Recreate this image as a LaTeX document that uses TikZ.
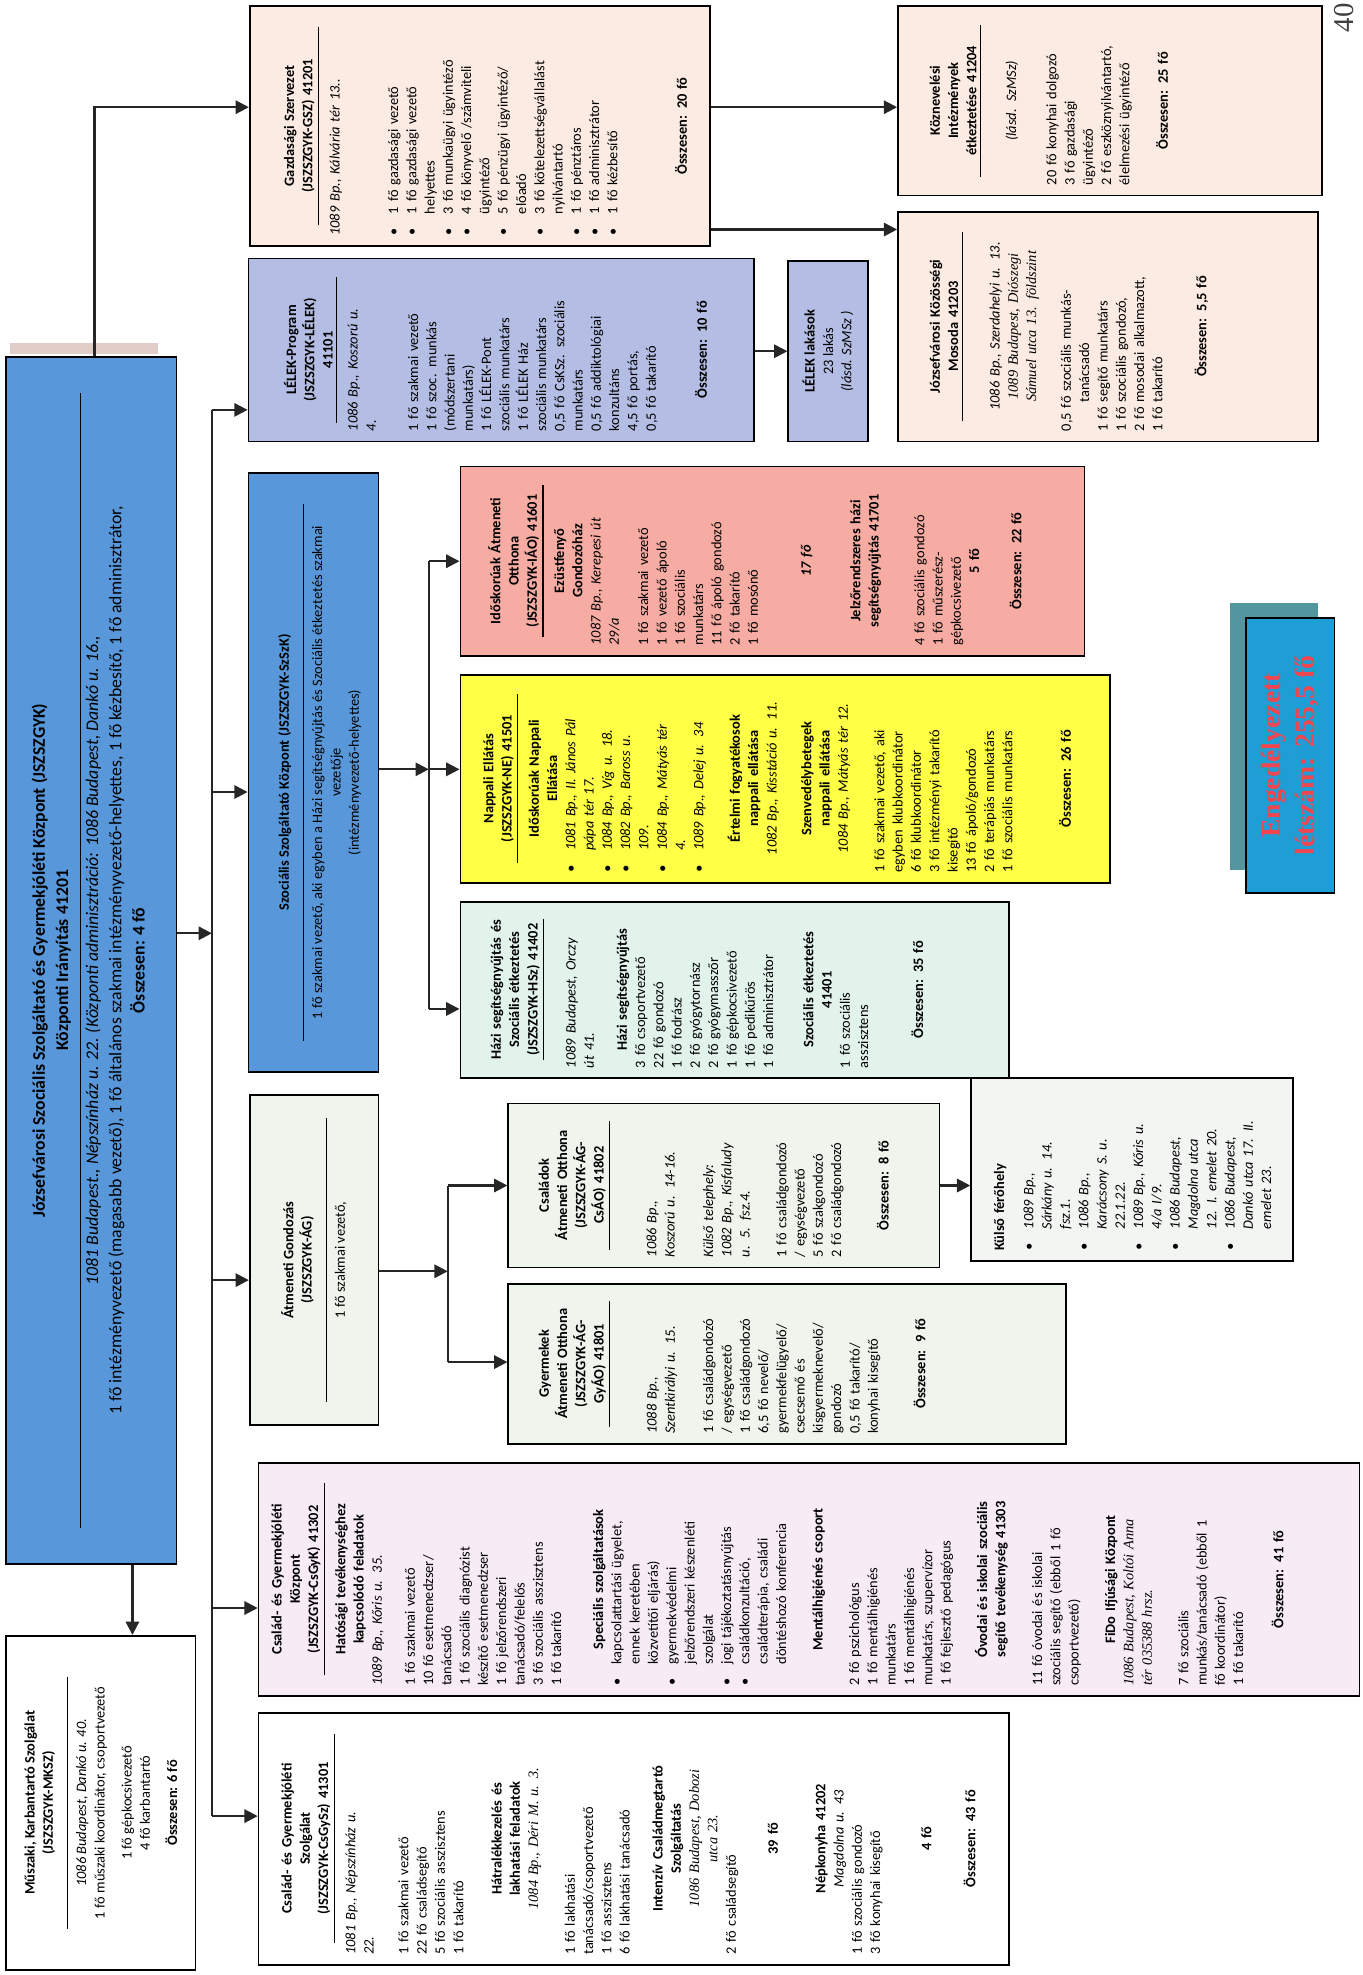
\documentclass[tikz,border=0pt]{standalone}
\usepackage{fontspec}
\setmainfont{Carlito}
\newfontfamily\tnr{Liberation Serif}
\usetikzlibrary{arrows.meta, fit, positioning}

\definecolor{mainblue}{RGB}{88,152,218}
\definecolor{peach}{RGB}{251,235,226}
\definecolor{lelekblue}{RGB}{180,190,228}
\definecolor{salmon}{RGB}{246,172,162}
\definecolor{napyellow}{RGB}{255,255,70}
\definecolor{mint}{RGB}{226,243,236}
\definecolor{palegreen}{RGB}{239,245,237}
\definecolor{palegray}{RGB}{243,245,243}
\definecolor{lilac}{RGB}{247,236,246}
\definecolor{pinkstrip}{RGB}{226,206,200}
\definecolor{engteal}{RGB}{82,150,160}
\definecolor{engblue}{RGB}{30,158,212}
\definecolor{engred}{RGB}{240,70,80}

\newcommand{\ttl}[1]{{\centering\bfseries #1\par}}
\newcommand{\ctr}[1]{{\centering #1\par}}
\newcommand{\sepl}{\par\vspace{3pt}\nointerlineskip{\centering\rule{0.9\linewidth}{1pt}\par}\vspace{2pt}}
\newcommand{\vgap}[1][1]{\par\vspace{#1\baselineskip}}
\newcommand{\itm}{\par\hangindent=1.5em\hangafter=1\noindent\makebox[1.5em][l]{\textbullet}}

\tikzset{
  box/.style={draw=black, line width=1.5pt, inner sep=0pt},
  txt/.style={rotate=90, anchor=north west, inner sep=0pt, align=left,
    font=\fontsize{13}{16.5}\selectfont, execute at begin node={\setlength{\parindent}{0pt}}},
  ctxt/.style={rotate=90, anchor=center, inner sep=0pt, align=center,
    font=\fontsize{13}{16.5}\selectfont},
  line/.style={line width=2pt, draw=black!85},
  arr/.style={line, -{Triangle[length=12pt,width=12pt]}},
}

\begin{document}
\begin{tikzpicture}[x=0.04cm, y=-0.04cm]
\useasboundingbox (0,0) rectangle (1080,1566);

\fill[pinkstrip] (8,272) rectangle (125,281);
\node[box, fill=mainblue, fit={(5,283) (140,1240)}] (main) {};
\node[ctxt, font=\fontsize{16}{21}\selectfont] (main text) at ([xshift=-0.1cm]main.center) {%
\textbf{Józsefvárosi Szociális Szolgáltató és Gyermekjóléti Központ (JSZSZGYK)}\\
\textbf{Központi Irányítás 41201}\\[-9pt]
\rule{36cm}{1pt}\\[-6pt]
\textit{1081 Budapest., Népszínház u. 22. (Központi adminisztráció: 1086 Budapest, Dankó u. 16.,}\\
1 fő intézményvezető (magasabb vezető), 1 fő általános szakmai intézményvezető-helyettes, 1 fő kézbesítő, 1 fő adminisztrátor,\\
\textbf{Összesen: 4 fő}};

\node[box, fill=white, fit={(5,1297) (155,1562)}] (mksz) {};
\node[ctxt] (mksz text) at (mksz.center) {%
\textbf{Műszaki, Karbantartó Szolgálat}\\
\textbf{(JSZSZGYK-MKSZ)}\\[-3pt]
\rule{8cm}{1pt}\\
\textit{1086 Budapest, Dankó u. 40.}\\
1 fő műszaki koordinátor, csoportvezető\\[8pt]
1 fő gépkocsivezető\\
4 fő karbantartó\\[8pt]
\textbf{Összesen: 6 fő}};

\node[box, fill=peach, fit={(198,5) (563,195)}] (gsz) {};
\node[txt, text width=6.96cm] (gsz text) at (225,187) {%
\ttl{Gazdasági Szervezet\\(JSZSZGYK-GSZ) 41201}\sepl
\textit{1089 Bp., Kálvária tér 13..}
\vgap[2.2]
\itm 1 fő gazdasági vezető
\itm 1 fő gazdasági vezető\newline helyettes
\itm 3 fő munkaügyi ügyintéző
\itm 4 fő könyvelő /számviteli\newline ügyintéző
\itm 5 fő pénzügyi ügyintéző/\newline előadó
\itm 3 fő kötelezettségvállalást\newline nyilvántartó
\itm 1 fő pénztáros
\itm 1 fő adminisztrátor
\itm 1 fő kézbesítő
\vgap[2.8]
\ttl{Összesen: 20 fő}};

\node[box, fill=peach, fit={(712,5) (1048,155)}] (kozn) {};
\node[txt, text width=5.36cm] (kozn text) at (737,147) {%
\ttl{Köznevelési\\Intézmények\\étkeztetése 41204}\sepl
\vgap[0.8]
\ctr{\textit{(lásd. SzMSz)}}
\vgap[1.2]
20 fő konyhai dolgozó\par
3 fő gazdasági\par
ügyintéző\par
2 fő eszköznyilvántartó,\par
élelmezési ügyintéző
\vgap[1.1]
\ttl{Összesen: 25 fő}};

\node[box, fill=peach, fit={(712,168) (1045,350)}] (mos) {};
\node[txt, text width=6.64cm] (mos text) at (737,342) {%
\ttl{Józsefvárosi Közösségi\\Mosoda 41203}\sepl
\vgap[0.9]
{\centering\itshape 1086 Bp., Szerdahelyi u. 13.\\ {\tnr 1089 Budapest, Diószegi\\ Sámuel utca 13. földszint}\par}
\vgap[0.9]
0,5 fő szociális munkás-\par
\hspace*{2em}tanácsadó\par
1 fő segítő munkatárs\par
1 fő szociális gondozó,\par
2 fő mosodai alkalmazott,\par
1 fő takarító
\vgap[1.4]
\ttl{Összesen: 5,5 fő}};

\node[box, fill=lelekblue, fit={(197,205) (598,350)}] (lelek) {};
\node[txt, text width=5.16cm] (lelek text) at (225,342) {%
\ttl{LÉLEK-Program\\(JSZSZGYK-LÉLEK)\\41101}\sepl
\textit{1086 Bp., Koszorú u.}\par
\textit{4.}
\vgap[1.3]
1 fő szakmai vezető\par
1 fő szoc. munkás\par
(módszertani\par
munkatárs)\par
1 fő LÉLEK-Pont\par
szociális munkatárs\par
1 fő LÉLEK Ház\par
szociális munkatárs\par
0,5 fő CsKSz. szociális\par
munkatárs\par
0,5 fő addiktológiai\par
konzultáns\par
4,5 fő portás,\par
0,5 fő takarító
\vgap[1.8]
\ttl{Összesen: 10 fő}};

\node[box, fill=lelekblue, fit={(625,207) (688,350)}] (lakas) {};
\node[ctxt] (lakas text) at (lakas.center) {%
\textbf{LÉLEK lakások}\\
23 lakás\\
\textit{(lásd. SzMSz )}};

\node[box, fill=mainblue, fit={(197,375) (300,850)}] (szszk) {};
\node[ctxt] (szszk text) at ([xshift=0.2cm]szszk.center) {%
\textbf{Szociális Szolgáltató Központ (JSZSZGYK-SzSzK)}\\[-3pt]
\rule{17cm}{1pt}\\
1 fő szakmai vezető, aki egyben a Házi segítségnyújtás és Szociális étkeztetés szakmai\\
vezetője\\
(intézményvezető-helyettes)};

\node[box, fill=salmon, fit={(365,370) (860,520)}] (idos) {};
\node[txt, text width=5.36cm] (idos text) at (387,512) {%
\ttl{Időskorúak Átmeneti\\Otthona\\(JSZSZGYK-IÁO) 41601}\sepl
\ttl{Ezüstfenyő\\Gondozóház}
\textit{1087 Bp., Kerepesi út}\par
\textit{29/a}
\vgap[0.6]
1 fő szakmai vezető\par
1 fő vezető ápoló\par
1 fő szociális\par
munkatárs\par
11 fő ápoló gondozó\par
2 fő takarító\par
1 fő mosónő
\vgap[1.9]
\ttl{\itshape 17 fő}
\vgap[1.7]
\ttl{Jelzőrendszeres házi\\segítségnyújtás 41701}
\vgap[1.5]
4 fő szociális gondozó\par
1 fő műszerész-\par
gépkocsivezető\par
\ttl{5 fő}
\vgap[1.3]
\ttl{Összesen: 22 fő}};

\node[box, fill=napyellow, fit={(365,535) (880,700)}] (napp) {};
\node[txt, text width=5.96cm] (napp text) at (383,692) {%
\ttl{Nappali Ellátás\\(JSZSZGYK-NE) 41501}\sepl
\ttl{Időskorúak Nappali\\Ellátása}
{\itshape
\itm 1081 Bp., II. János Pál\newline pápa tér 17.
\itm 1084 Bp., Víg u. 18.
\itm 1082 Bp., Baross u.\newline 109.
\itm 1084 Bp., Mátyás tér\newline 4.
\itm 1089 Bp., Delej u. 34\par}
\vgap[1]
\ttl{Értelmi fogyatékosok\\nappali ellátása}
\ctr{\itshape 1082 Bp., Kisstáció u. 11.}
\vgap[0.9]
\ttl{Szenvedélybetegek\\nappali ellátása}
\ctr{\itshape 1084 Bp., Mátyás tér 12.}
\vgap[1]
1 fő szakmai vezető, aki\par
egyben klubkoordinátor\par
6 fő klubkoordinátor\par
3 fő intézményi takarító\par
kisegítő\par
13 fő ápoló/gondozó\par
2 fő terápiás munkatárs\par
1 fő szociális munkatárs
\vgap[2.2]
\ttl{Összesen: 26 fő}};

\node[box, fill=mint, fit={(365,715) (800,855)}] (hazi) {};
\node[txt, text width=4.96cm] (hazi text) at (389,847) {%
\ttl{Házi segítségnyújtás és\\Szociális étkeztetés\\(JSZSZGYK-HSz) 41402}\sepl
\vgap[0.6]
\textit{1089 Budapest, Orczy}\par
\textit{út 41.}
\vgap[0.8]
\ttl{Házi segítségnyújtás}
3 fő csoportvezető\par
22 fő gondozó\par
1 fő fodrász\par
2 fő gyógytornász\par
2 fő gyógymasszőr\par
1 fő gépkocsivezető\par
1 fő pedikűrös\par
1 fő adminisztrátor
\vgap[1.2]
\ttl{Szociális étkeztetés\\41401}
1 fő szociális\par
asszisztens
\vgap[2]
\ttl{Összesen: 35 fő}};

\node[box, fill=palegreen, fit={(198,868) (300,1130)}] (atm) {};
\node[ctxt] (atm text) at (atm.center) {%
\textbf{Átmeneti Gondozás}\\
\textbf{(JSZSZGYK-ÁG)}\\[-3pt]
\rule{9cm}{1pt}\\
1 fő szakmai vezető,};

\node[box, fill=palegreen, fit={(403,875) (745,1005)}] (csao) {};
\node[txt, text width=4.56cm] (csao text) at (427,997) {%
\ttl{Családok\\Átmeneti Otthona\\(JSZSZGYK-ÁG-\\CsÁO) 41802}\sepl
\vgap[1.4]
\textit{1086 Bp.,}\par
\textit{Koszorú u. 14-16.}
\vgap[1.1]
\textit{Külső telephely:}\par
\textit{1082 Bp., Kisfaludy}\par
\textit{u. 5. fsz.4.}
\vgap[1]
1 fő családgondozó\par
/ egységvezető\par
5 fő szakgondozó\par
2 fő családgondozó
\vgap[1.6]
\ttl{Összesen: 8 fő}};

\node[box, fill=palegray, fit={(770,855) (1025,1000)}] (kulso) {};
\node[txt, text width=5.16cm] (kulso text) at (788,992) {%
\textbf{Külső férőhely}
\vgap[0.6]
{\itshape
\itm 1089 Bp.,\newline Sárkány u. 14.\newline fsz.1.
\itm 1086 Bp.,\newline Karácsony S. u.\newline 22.1.22.
\itm 1089 Bp., Kőris u.\newline 4/a I/9.
\itm 1086 Budapest,\newline Magdolna utca\newline 12. I. emelet 20.
\itm 1086 Budapest,\newline Dankó utca 17. II.\newline emelet 23.\par}};

\node[box, fill=palegreen, fit={(403,1018) (845,1145)}] (gyao) {};
\node[txt, text width=4.44cm] (gyao text) at (427,1137) {%
\ttl{Gyermekek\\Átmeneti Otthona\\(JSZSZGYK-ÁG-\\GyÁO) 41801}\sepl
\vgap[1.4]
\textit{1088 Bp.,}\par
\textit{Szentkirályi u. 15.}
\vgap[1.1]
1 fő családgondozó\par
/ egységvezető\par
1 fő családgondozó\par
6,5 fő nevelő/\par
gyermekfelügyelő/\par
csecsemő és\par
kisgyermeknevelő/\par
gondozó\par
0,5 fő takarító/\par
konyhai kisegítő
\vgap[1.6]
\ttl{Összesen: 9 fő}};

\node[box, fill=lilac, fit={(205,1160) (1078,1345)}] (kp) {};
\node[txt, text width=6.76cm] (kp text) at (215,1337) {%
\ttl{Család- és Gyermekjóléti\\Központ\\(JSZSZGYK-CsGyK) 41302}\sepl
\ttl{Hatósági tevékenységhez\\kapcsolódó feladatok}
\textit{1089 Bp., Kőris u. 35.}
\vgap[0.8]
1 fő szakmai vezető\par
10 fő esetmenedzser/\par
tanácsadó\par
1 fő szociális diagnózist\par
készítő esetmenedzser\par
1 fő jelzőrendszeri\par
tanácsadó/felelős\par
3 fő szociális asszisztens\par
1 fő takarító
\vgap[1.3]
\ttl{Speciális szolgáltatások}
\itm kapcsolattartási ügyelet,\newline ennek keretében\newline közvetítői eljárás)
\itm gyermekvédelmi\newline jelzőrendszeri készenléti\newline szolgálat
\itm jogi tájékoztatásnyújtás
\itm családkonzultáció,\newline családterápia, családi\newline döntéshozó konferencia
\vgap[1]
\ttl{Mentálhigiénés csoport}
\vgap[1]
2 fő pszichológus\par
1 fő mentálhigiénés\par
munkatárs\par
1 fő mentálhigiénés\par
munkatárs, szupervízor\par
1 fő fejlesztő pedagógus
\vgap[1]
\ttl{Óvodai és iskolai szociális\\segítő tevékenység 41303}
\vgap[1]
11 fő óvodai és iskolai\par
szociális segítő (ebből 1 fő\par
csoportvezető)
\vgap[1]
\ttl{FiDo Ifjúsági Központ}
{\tnr\itshape 1086 Budapest, Koltói Anna\par
tér 035388 hrsz.\par}
\vgap[1]
7 fő szociális\par
munkás/tanácsadó (ebből 1\par
fő koordinátor)\par
1 fő takarító
\vgap[1.2]
\ttl{Összesen: 41 fő}};

\node[box, fill=white, fit={(205,1358) (800,1558)}] (szolg) {};
\node[txt, text width=7.36cm] (szolg text) at (223,1550) {%
\ttl{Család- és Gyermekjóléti\\Szolgálat\\(JSZSZGYK-CsGySz) 41301}\sepl
\textit{1081 Bp., Népszínház u.}\par
\textit{22.}
\vgap[0.9]
1 fő szakmai vezető\par
22 fő családsegítő\par
5 fő szociális asszisztens\par
1 fő takarító
\vgap[1.1]
\ttl{Hátralékkezelés és\\lakhatási feladatok}
\ctr{\tnr\itshape 1084 Bp., Déri M. u. 3.}
\vgap[1]
1 fő lakhatási\par
tanácsadó/csoportvezető\par
1 fő asszisztens\par
6 fő lakhatási tanácsadó
\vgap[0.8]
\ttl{Intenzív Családmegtartó\\Szolgáltatás}
\ctr{\tnr\itshape 1086 Budapest, Dobozi\\utca 23.}
2 fő családsegítő
\vgap[1.3]
\ttl{39 fő}
\vgap[1.6]
\ttl{Népkonyha 41202}
\ctr{\itshape Magdolna u. 43}
1 fő szociális gondozó\par
3 fő konyhai kisegítő
\vgap[1.8]
\ttl{4 fő}
\vgap[1.4]
\ttl{Összesen: 43 fő}};

\fill[engteal] (975,478) rectangle (1045,690);
\node[box, fill=engblue, fit={(988,490) (1058,708)}] (eng) {};
\node[ctxt, font=\tnr\bfseries\fontsize{25}{31}\selectfont, text=engred] (eng text) at (eng.center) {Engedélyezett\\létszám: 255,5 fő};

\node[rotate=90, font=\tnr\fontsize{26}{26}\selectfont, text=black!75] (page) at (1066,14) {40};

\coordinate (gturn) at (75,85);
\coordinate (mosrow) at (640,182);
\coordinate (mx) at (105,1270);
\coordinate (tr1) at (168,325);
\coordinate (tr2) at (168,628);
\coordinate (trm) at (168,740);
\coordinate (tr3) at (168,1015);
\coordinate (tr4) at (168,1275);
\coordinate (tr5) at (168,1440);
\coordinate (st1) at (340,445);
\coordinate (st2) at (340,610);
\coordinate (st3) at (340,800);
\coordinate (at1) at (355,940);
\coordinate (at2) at (355,1008);
\coordinate (at3) at (355,1080);

\draw[arr] (main.north -| gturn) -- (gturn) -- (gsz.west |- gturn);
\draw[arr] (gsz.east |- gturn) -- (kozn.west |- gturn);
\draw[arr] (gsz.east |- mosrow) -- (mos.west |- mosrow);
\draw[arr] (lelek.east |- lakas.west) -- (lakas.west);
\draw[arr] (main.south -| mx) -- (mksz.north -| mx);
\draw[arr] (main.east |- trm) -- (trm);
\draw[line] (tr1) -- (tr5);
\draw[arr] (tr1) -- (lelek.west |- tr1);
\draw[arr] (tr2) -- (szszk.west |- tr2);
\draw[arr] (tr3) -- (atm.west |- tr3);
\draw[arr] (tr4) -- (kp.west |- tr4);
\draw[arr] (tr5) -- (szolg.west |- tr5);
\draw[arr] (szszk.east |- st2) -- (st2);
\draw[line] (st1) -- (st3);
\draw[arr] (st1) -- (idos.west |- st1);
\draw[arr] (st2) -- (napp.west |- st2);
\draw[arr] (st3) -- (hazi.west |- st3);
\draw[arr] (atm.east |- at2) -- (at2);
\draw[line] (at1) -- (at3);
\draw[arr] (at1) -- (csao.west |- at1);
\draw[arr] (at3) -- (gyao.west |- at3);
\draw[arr] (csao.east) -- (kulso.west |- csao.east);
\end{tikzpicture}
\end{document}
